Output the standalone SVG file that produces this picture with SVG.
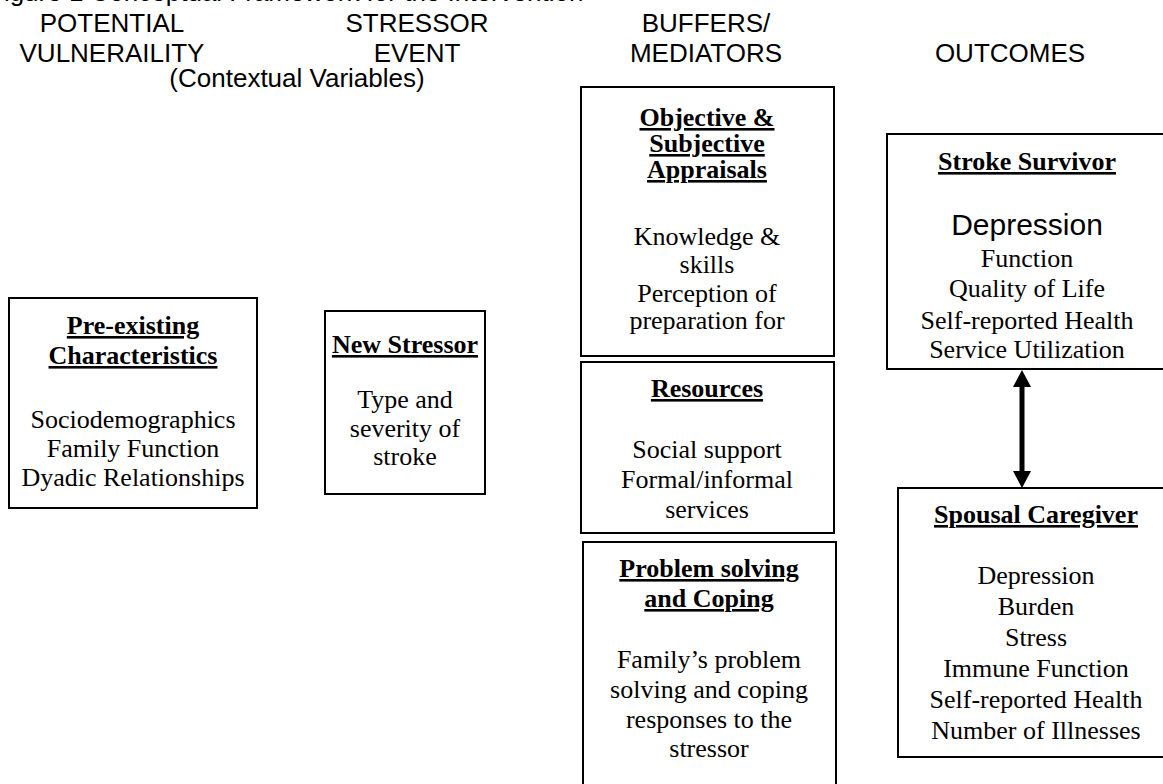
<svg xmlns="http://www.w3.org/2000/svg" width="1163" height="784" viewBox="0 0 1163 784">
<style>
.bg{fill:#fff}
.box{fill:#fff;stroke:#000;stroke-width:2}
.hd{font-family:"Liberation Sans",Arial,sans-serif;font-size:26px;fill:#000;text-anchor:middle}
.ttl{font-family:"Liberation Sans",Arial,sans-serif;font-size:26px;fill:#000}
.tt{font-family:"Liberation Serif","Times New Roman",serif;font-size:26px;font-weight:bold;fill:#000;text-anchor:middle;text-decoration:underline;text-decoration-thickness:2.5px}
.tx{font-family:"Liberation Serif","Times New Roman",serif;font-size:26px;fill:#000;text-anchor:middle}
.big{font-family:"Liberation Sans",Arial,sans-serif;font-size:30px;fill:#000;text-anchor:middle}
.conn{stroke:#000;stroke-width:5;fill:none}
</style>
<defs>
<marker id="ah" markerUnits="userSpaceOnUse" markerWidth="17" markerHeight="18" refX="0" refY="9" orient="auto-start-reverse" viewBox="0 0 17 18">
<path d="M0,0 L17,9 L0,18 z" fill="#000"/>
</marker>
</defs>
<rect class="bg" x="0" y="0" width="1163" height="784"/>
<g id="headers">
<text class="ttl" x="-12" y="1">Figure 1 Conceptual Framework for the Intervention</text>
<text class="hd" x="112" y="32">POTENTIAL</text>
<text class="hd" x="112" y="62">VULNERAILITY</text>
<text class="hd" x="297" y="87">(Contextual Variables)</text>
<text class="hd" x="417" y="32">STRESSOR</text>
<text class="hd" x="417" y="62">EVENT</text>
<text class="hd" x="706" y="32">BUFFERS/</text>
<text class="hd" x="706" y="62">MEDIATORS</text>
<text class="hd" x="1010" y="62">OUTCOMES</text>
</g>
<g id="preexisting">
<rect class="box" x="9" y="298" width="248" height="210"/>
<text class="tt" x="133" y="334">Pre-existing</text>
<text class="tt" x="133" y="364">Characteristics</text>
<text class="tx" x="133" y="428">Sociodemographics</text>
<text class="tx" x="133" y="457">Family Function</text>
<text class="tx" x="133" y="486">Dyadic Relationships</text>
</g>
<g id="newstressor">
<rect class="box" x="325" y="311" width="160" height="183"/>
<text class="tt" x="405" y="353">New Stressor</text>
<text class="tx" x="405" y="408">Type and</text>
<text class="tx" x="405" y="437">severity of</text>
<text class="tx" x="405" y="465">stroke</text>
</g>
<g id="appraisals">
<rect class="box" x="581" y="87" width="253" height="269"/>
<text class="tt" x="707" y="126">Objective &amp;</text>
<text class="tt" x="707" y="152">Subjective</text>
<text class="tt" x="707" y="178">Appraisals</text>
<text class="tx" x="707" y="245">Knowledge &amp;</text>
<text class="tx" x="707" y="273">skills</text>
<text class="tx" x="707" y="302">Perception of</text>
<text class="tx" x="707" y="329">preparation for</text>
</g>
<g id="resources">
<rect class="box" x="581" y="362" width="253" height="171"/>
<text class="tt" x="707" y="397">Resources</text>
<text class="tx" x="707" y="458">Social support</text>
<text class="tx" x="707" y="488">Formal/informal</text>
<text class="tx" x="707" y="518">services</text>
</g>
<g id="coping">
<rect class="box" x="583" y="542" width="253" height="260"/>
<text class="tt" x="709" y="577">Problem solving</text>
<text class="tt" x="709" y="607">and Coping</text>
<text class="tx" x="709" y="668">Family’s problem</text>
<text class="tx" x="709" y="698">solving and coping</text>
<text class="tx" x="709" y="728">responses to the</text>
<text class="tx" x="709" y="757">stressor</text>
</g>
<g id="survivor">
<rect class="box" x="887" y="134" width="280" height="235"/>
<text class="tt" x="1027" y="170">Stroke Survivor</text>
<text class="big" x="1027" y="235">Depression</text>
<text class="tx" x="1027" y="267">Function</text>
<text class="tx" x="1027" y="297">Quality of Life</text>
<text class="tx" x="1027" y="329">Self-reported Health</text>
<text class="tx" x="1027" y="358">Service Utilization</text>
</g>
<g id="caregiver">
<rect class="box" x="898" y="488" width="276" height="269"/>
<text class="tt" x="1036" y="523">Spousal Caregiver</text>
<text class="tx" x="1036" y="584">Depression</text>
<text class="tx" x="1036" y="615">Burden</text>
<text class="tx" x="1036" y="646">Stress</text>
<text class="tx" x="1036" y="677">Immune Function</text>
<text class="tx" x="1036" y="708">Self-reported Health</text>
<text class="tx" x="1036" y="739">Number of Illnesses</text>
</g>
<g id="connectors">
<line class="conn" x1="1022" y1="387" x2="1022" y2="471" marker-start="url(#ah)" marker-end="url(#ah)"/>
</g>
</svg>
